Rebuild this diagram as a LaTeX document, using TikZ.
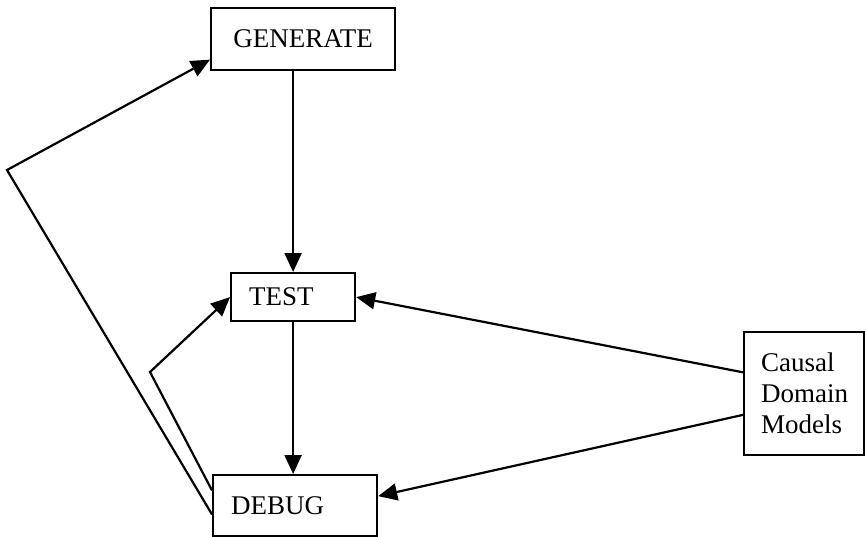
\documentclass[tikz,border=0pt]{standalone}
\usepackage{fontspec}
\setmainfont{Liberation Serif}
\usetikzlibrary{arrows.meta,calc}

\tikzset{
  stagebox/.style={draw, line width=2.2pt, anchor=north west, inner xsep=18pt,
    inner ysep=0pt, align=left, font=\fontsize{27}{31}\selectfont},
  flow/.style={line width=2.2pt, -{Triangle[length=19pt,width=17pt]}}
}

\begin{document}
\begin{tikzpicture}[x=1pt,y=-1pt]
  \useasboundingbox (0,0) rectangle (865,536);

  % boxes (top-left corner, width, height)
  \node[stagebox, text width=148pt, align=center, minimum height=62pt] (gen) at (210,7) {GENERATE\\[-6pt]};
  \node[stagebox, text width=88pt, minimum height=48pt] (test) at (230,272) {TEST};
  \node[stagebox, text width=128pt, minimum height=61pt] (debug) at (212,474) {DEBUG\\[-10pt]};
  \node[stagebox, inner xsep=17pt, text width=86pt, minimum height=123pt] (cdm) at (743,331) {Causal\\Domain\\Models\\[-8pt]};

  % main generate / test / debug chain
  \draw[flow] (test.north |- gen.south) -- (test.north);
  \draw[flow] (test.south) -- (test.south |- debug.north);

  % causal models feed test and debug
  \draw[flow] ($(cdm.north west)!0.33!(cdm.south west)$) -- (test.east);
  \draw[flow] ($(cdm.north west)!0.67!(cdm.south west)$) -- ($(debug.north east)!0.35!(debug.south east)$);

  % feedback from debug
  \coordinate (bendT) at (150,372);
  \coordinate (bendG) at (7,170);
  \draw[flow] ($(debug.north west)!0.26!(debug.south west)$) -- (bendT) -- (test.west);
  \draw[flow] ($(debug.north west)!0.64!(debug.south west)$) -- (bendG) -- ($(gen.north west)!0.82!(gen.south west)$);
\end{tikzpicture}
\end{document}
